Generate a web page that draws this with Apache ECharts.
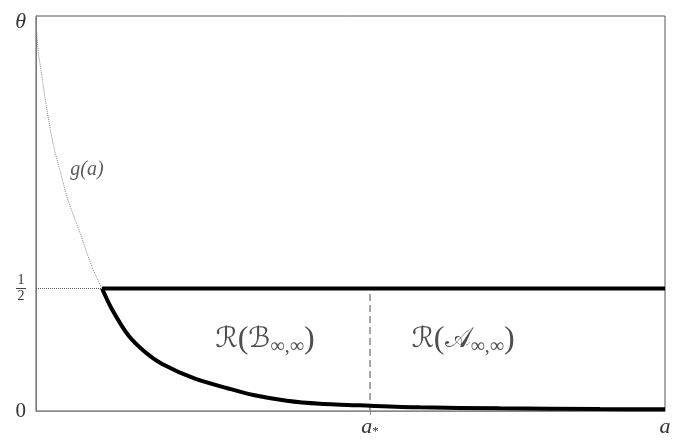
<!DOCTYPE html>
<html>
<head>
    <meta charset="UTF-8">
    <title></title>
    <script type="text/javascript" src="https://cdn.jsdelivr.net/npm/echarts@6/dist/echarts.min.js"></script>
    <style>
        html, body { margin: 0; padding: 0; background: #fff; }
    </style>
</head>
<body>
<div id="main" style="width: 680px; height: 446px;"></div>
<script>
    // data (x: 0..1 along a, y: value)
    var THETA = 1.588;
    var HALF = 0.5;
    var A_STAR = 0.531;
    var A_JOIN = 0.105;
    var gX = [0, 0.0037, 0.0091, 0.0143, 0.0223, 0.0302, 0.0366, 0.0509, 0.0700, 0.0890, 0.105];
    var gY = [1.588, 1.466, 1.371, 1.278, 1.155, 1.057, 0.996, 0.861, 0.727, 0.588, 0.5];
    var lowX = [0.105, 0.1203, 0.1467, 0.1733, 0.1998, 0.2528, 0.3057, 0.3455, 0.3986, 0.4515, 0.531, 0.6105, 0.7377, 0.8967, 1.0];
    var lowY = [0.5, 0.4176, 0.309, 0.2408, 0.1931, 0.1318, 0.092, 0.0653, 0.042, 0.0298, 0.0216, 0.0151, 0.011, 0.0082, 0.007];
    var regionLabels = [
        { x: 0.364, y: 0.29, name: 'B' },
        { x: 0.679, y: 0.29, name: 'A' }
    ];

    function pairs(xs, ys) {
        var out = [];
        for (var i = 0; i < xs.length; i++) out.push([xs[i], ys[i]]);
        return out;
    }

    var serif = 'Liberation Serif';
    var myChart = echarts.init(document.getElementById('main'));
    myChart.setOption({
        animation: false,
        grid: {
            left: 36, right: 15, top: 16, bottom: 35,
            show: true, borderColor: '#555', borderWidth: 1
        },
        xAxis: {
            type: 'value', min: 0, max: 1,
            splitLine: { show: false },
            axisLine: { lineStyle: { color: '#888' } },
            axisTick: { show: true, customValues: [A_STAR], length: 4, lineStyle: { color: '#888' } },
            axisLabel: {
                customValues: [A_STAR, 1],
                margin: 5,
                formatter: function (v) {
                    return v === 1 ? '{i|a}' : '{i|a}{s|*}';
                },
                rich: {
                    i: { fontFamily: serif, fontStyle: 'italic', fontSize: 22, color: '#333', lineHeight: 22 },
                    s: { fontFamily: serif, fontSize: 13, color: '#333', verticalAlign: 'bottom', lineHeight: 10 }
                }
            }
        },
        yAxis: {
            type: 'value', min: 0, max: 1.612,
            splitLine: { show: false },
            axisLine: { show: true, lineStyle: { color: '#777' } },
            axisTick: { show: false },
            axisLabel: {
                customValues: [0, HALF, THETA],
                margin: 10,
                formatter: function (v) {
                    if (v === 0) return '{n|0}';
                    if (v === HALF) return '{f|1}\n{b| }\n{f|2}';
                    return '{t|θ}';
                },
                rich: {
                    n: { fontFamily: serif, fontSize: 21, color: '#333' },
                    t: { fontFamily: serif, fontStyle: 'italic', fontSize: 22, color: '#333' },
                    f: { fontFamily: serif, fontSize: 14, color: '#333', lineHeight: 13, align: 'center' },
                    b: { width: 10, height: 1, lineHeight: 3, backgroundColor: '#444', fontSize: 1, align: 'center' }
                }
            }
        },
        series: [
            {
                type: 'line', data: pairs(gX, gY), smooth: 0.3, symbol: 'none',
                lineStyle: { color: '#888', width: 1, type: 'dotted' }
            },
            {
                type: 'line', data: [[0, HALF], [A_JOIN, HALF]], symbol: 'none',
                lineStyle: { color: '#555', width: 1, type: 'dotted' }
            },
            {
                type: 'line', data: [[A_STAR, 0], [A_STAR, HALF]], symbol: 'none',
                lineStyle: { color: '#888', width: 1.5, type: [7, 4] }
            },
            {
                type: 'line', data: [[A_JOIN, HALF], [1, HALF]], symbol: 'none',
                lineStyle: { color: '#000', width: 4 }
            },
            {
                type: 'line', data: pairs(lowX, lowY), smooth: 0.3, symbol: 'none',
                lineStyle: { color: '#000', width: 4 }
            },
            {
                type: 'scatter', symbolSize: 0,
                data: regionLabels.map(function (d) { return { value: [d.x, d.y], name: d.name }; }),
                label: {
                    show: true, position: 'inside',
                    formatter: function (p) {
                        var s = p.name === 'B' ? 'ℬ' : '𝒜';
                        return '{r|ℛ}{p|(}{r|' + s + '}{s|∞,∞}{p|)}';
                    },
                    rich: {
                        r: { fontFamily: 'DejaVu Sans', fontSize: 28, color: '#222', lineHeight: 34 },
                        p: { fontFamily: serif, fontSize: 32, color: '#222', lineHeight: 34 },
                        s: { fontFamily: serif, fontSize: 20, color: '#222', verticalAlign: 'bottom', lineHeight: 22 }
                    }
                }
            },
            {
                type: 'scatter', symbolSize: 0,
                data: [[0.081, 0.984]],
                label: {
                    show: true, position: 'inside',
                    formatter: '{g|g(a)}',
                    rich: { g: { fontFamily: serif, fontStyle: 'italic', fontSize: 20, color: '#333' } }
                }
            }
        ]
    });
</script>
</body>
</html>
